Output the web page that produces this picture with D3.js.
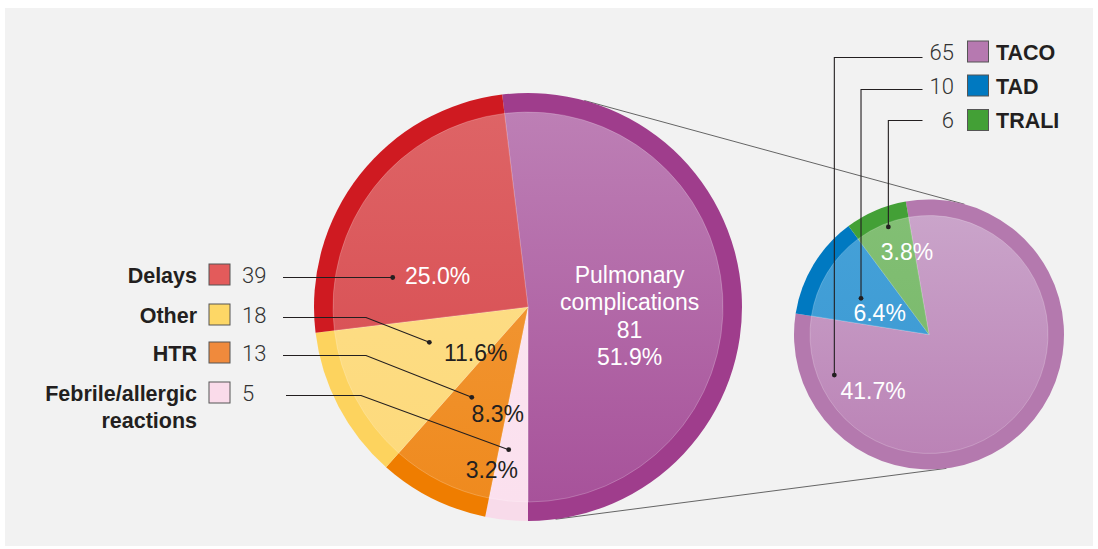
<!DOCTYPE html>
<html lang='en'>
<head>
  <meta charset='UTF-8'>
  <title>Transfusion reactions and pulmonary complications</title>
  <style>
  body { margin: 0; background: #fff; }
  text { font-family: 'Liberation Sans', Arial, sans-serif; }
  .name { font-size: 21.5px; font-weight: bold; fill: #231f20; }
  .count { font-family: Roboto, sans-serif; font-size: 22px; font-weight: 300; fill: #333; }
  .pct { font-size: 23px; }
  .leader { fill: none; stroke: #231f20; stroke-width: 1.1; }
  .zoomline { stroke: #555; stroke-width: 0.9; }
  </style>
  <script src="https://d3js.org/d3.v7.min.js"></script>
</head>
<body>
  <script>

  // main pie, clockwise from the bottom of the pulmonary slice
  var mainNames = ['Pulmonary complications', 'Febrile/allergic reactions', 'HTR', 'Other', 'Delays'];
  var mainValues = [81, 5, 13, 18, 39];
  var mainPct = ['51.9%', '3.2%', '8.3%', '11.6%', '25.0%'];

  // breakdown of pulmonary complications
  var subNames = ['TACO', 'TAD', 'TRALI'];
  var subValues = [65, 10, 6];
  var subPct = ['41.7%', '6.4%', '3.8%'];

  var mainRing = ['#9f3d8c', '#f8dbea', '#ef7d00', '#fdd35e', '#cf1a21'];
  var mainTop = ['#bd7fb5', '#fce8f2', '#f39e42', '#fde08d', '#de6466'];
  var mainBottom = ['#a7529a', '#fbe0ee', '#ef8a1e', '#fdd97a', '#d6474c'];
  var mainSwatch = [null, '#fadbea', '#f08a3c', '#fdd766', '#e35b5b'];
  var subRing = ['#b479ae', '#0079c1', '#43a036'];
  var subTop = ['#caa4ca', '#45a1d8', '#82bf74'];
  var subBottom = ['#bb83b6', '#3a98d2', '#76b768'];
  var subSwatch = ['#b679b0', '#0079c1', '#43a036'];

  var width = 1098, height = 549;
  var svg = d3.select('body').append('svg').attr('width', width).attr('height', height);
  var defs = svg.append('defs');

  svg.append('rect')
     .attr('x', 5).attr('y', 8)
     .attr('width', 1088).attr('height', 538)
     .attr('fill', '#f2f2f2');

  var main = { x: 528, y: 307, r: 214, rin: 195 };
  var sub = { x: 929, y: 334.5, r: 135, rin: 119 };

  function polar(c, r, deg) {
    var a = deg * Math.PI / 180;
    return [c.x + r * Math.sin(a), c.y - r * Math.cos(a)];
  }

  // outer tangents joining the two pies

  var dx = sub.x - main.x, dy = sub.y - main.y;
  var dist = Math.sqrt(dx * dx + dy * dy);
  var base = Math.atan2(dy, dx), spread = Math.acos((main.r - sub.r) / dist);
  [base - spread, base + spread].forEach(function (t) {
    svg.append('line')
       .attr('class', 'zoomline')
       .attr('x1', main.x + main.r * Math.cos(t)).attr('y1', main.y + main.r * Math.sin(t))
       .attr('x2', sub.x + sub.r * Math.cos(t)).attr('y2', sub.y + sub.r * Math.sin(t));
  });

  function drawPie(c, values, start, ring, top, bottom, prefix) {
    var pie = d3.pie().sort(null).value(function (d) { return d; })
                .startAngle(start).endAngle(start + 2 * Math.PI);
    var arcs = pie(values);
    var g = svg.append('g').attr('transform', 'translate(' + c.x + ',' + c.y + ')');

    arcs.forEach(function (a, i) {
      var grad = defs.append('linearGradient')
                     .attr('id', prefix + i)
                     .attr('gradientUnits', 'userSpaceOnUse')
                     .attr('x1', 0).attr('x2', 0)
                     .attr('y1', -c.rin).attr('y2', c.rin);
      grad.append('stop').attr('offset', 0).attr('stop-color', top[i]);
      grad.append('stop').attr('offset', 1).attr('stop-color', bottom[i]);
    });

    g.selectAll('.ring')
     .data(arcs)
     .enter()
     .append('path')
     .attr('class', 'ring')
     .attr('d', d3.arc().innerRadius(0).outerRadius(c.r))
     .attr('fill', function (d, i) { return ring[i]; });

    g.selectAll('.inner')
     .data(arcs)
     .enter()
     .append('path')
     .attr('class', 'inner')
     .attr('d', d3.arc().innerRadius(0).outerRadius(c.rin))
     .attr('fill', function (d, i) { return 'url(#' + prefix + i + ')'; })
     .attr('stroke', 'rgba(255,255,255,0.35)')
     .attr('stroke-width', 0.6);

    return arcs;
  }

  var total = d3.sum(mainValues);
  drawPie(main, mainValues, Math.PI - 2 * Math.PI * mainValues[0] / total,
          mainRing, mainTop, mainBottom, 'gm');
  drawPie(sub, subValues, -9.9 * Math.PI / 180, subRing, subTop, subBottom, 'gs');

  // in-slice percentage labels

  var mainLabelPos = [null, [167, 192.5], [111.5, 195.7], [69.8, 228.5], [95.5, 289]];
  var mainLabelFill = ['#fff', '#231f20', '#231f20', '#231f20', '#fff'];

  mainPct.forEach(function (p, i) {
    if (!mainLabelPos[i]) return;
    var pt = polar(main, mainLabelPos[i][0], mainLabelPos[i][1]);
    svg.append('text')
       .attr('class', 'pct')
       .attr('x', pt[0]).attr('y', pt[1])
       .attr('dy', '0.35em')
       .attr('text-anchor', 'middle')
       .attr('fill', mainLabelFill[i])
       .text(p);
  });

  var pul = polar(main, 102, 95);
  var pulLines = ['Pulmonary', 'complications', String(mainValues[0]), mainPct[0]];
  svg.append('text')
     .attr('class', 'pct')
     .attr('text-anchor', 'middle')
     .attr('fill', '#fff')
     .selectAll('tspan')
     .data(pulLines)
     .enter()
     .append('tspan')
     .attr('x', pul[0])
     .attr('y', function (d, i) { return pul[1] - 41 + i * 27.3; })
     .attr('dy', '0.35em')
     .text(function (d) { return d; });

  var subLabelPos = [[79.5, 224.7], [54, -66], [85, -15]];
  subPct.forEach(function (p, i) {
    var pt = polar(sub, subLabelPos[i][0], subLabelPos[i][1]);
    svg.append('text')
       .attr('class', 'pct')
       .attr('x', pt[0]).attr('y', pt[1])
       .attr('dy', '0.35em')
       .attr('text-anchor', 'middle')
       .attr('fill', '#fff')
       .text(p);
  });

  // left legend with leader lines

  var leftRows = [null, 393, 353, 315, 275];
  var leftElbow = [null, 361, 366, 366, null];
  var mainDots = [null, [144, 187.7], [106.4, 211.9], [104.8, 250.3], [138.3, 282]];

  mainNames.forEach(function (n, i) {
    if (leftRows[i] === null) return;
    var y = leftRows[i];
    var lines = n === 'Febrile/allergic reactions' ? ['Febrile/allergic', 'reactions'] : [n];
    var t = svg.append('text').attr('class', 'name').attr('text-anchor', 'end');
    lines.forEach(function (l, j) {
      t.append('tspan').attr('x', 197).attr('y', y + j * 27).attr('dy', '0.35em').text(l);
    });

    svg.append('rect')
       .attr('x', 209).attr('y', y - 11)
       .attr('width', 21).attr('height', 21)
       .attr('fill', mainSwatch[i])
       .attr('stroke', '#555').attr('stroke-width', 1);

    svg.append('text')
       .attr('class', 'count')
       .attr('x', 242).attr('y', y)
       .attr('dy', '0.35em')
       .text(mainValues[i]);

    var dot = polar(main, mainDots[i][0], mainDots[i][1]);
    var ly = y + 2.5;
    var pts = [[i === 1 ? 286 : 283, ly]];
    if (leftElbow[i] !== null) pts.push([leftElbow[i], ly]);
    pts.push(dot);
    if (leftElbow[i] === null) pts[pts.length - 1] = [dot[0], ly];
    svg.append('path').attr('class', 'leader').attr('d', d3.line()(pts));
    svg.append('circle').attr('cx', pts[pts.length - 1][0]).attr('cy', pts[pts.length - 1][1])
       .attr('r', 2.4).attr('fill', '#231f20');
  });

  // right legend with leader lines

  var rightRows = [52, 86, 120.5];
  var subDots = [[103, 246.8], [77, -62], [115, -20.7]];
  var rightLineY = [57.5, 89.5, 120.5];

  subNames.forEach(function (n, i) {
    var y = rightRows[i];
    svg.append('text')
       .attr('class', 'count')
       .attr('x', 954).attr('y', y)
       .attr('dy', '0.35em')
       .attr('text-anchor', 'end')
       .text(subValues[i]);

    svg.append('rect')
       .attr('x', 967.5).attr('y', y - 11)
       .attr('width', 21).attr('height', 21)
       .attr('fill', subSwatch[i])
       .attr('stroke', '#555').attr('stroke-width', 1);

    svg.append('text')
       .attr('class', 'name')
       .attr('x', 996).attr('y', y)
       .attr('dy', '0.35em')
       .text(n);

    var dot = polar(sub, subDots[i][0], subDots[i][1]);
    var ly = rightLineY[i];
    svg.append('path').attr('class', 'leader')
       .attr('d', d3.line()([[922.5, ly], [dot[0], ly], dot]));
    svg.append('circle').attr('cx', dot[0]).attr('cy', dot[1])
       .attr('r', 2.4).attr('fill', '#231f20');
  });
  </script>
</body>
</html>
